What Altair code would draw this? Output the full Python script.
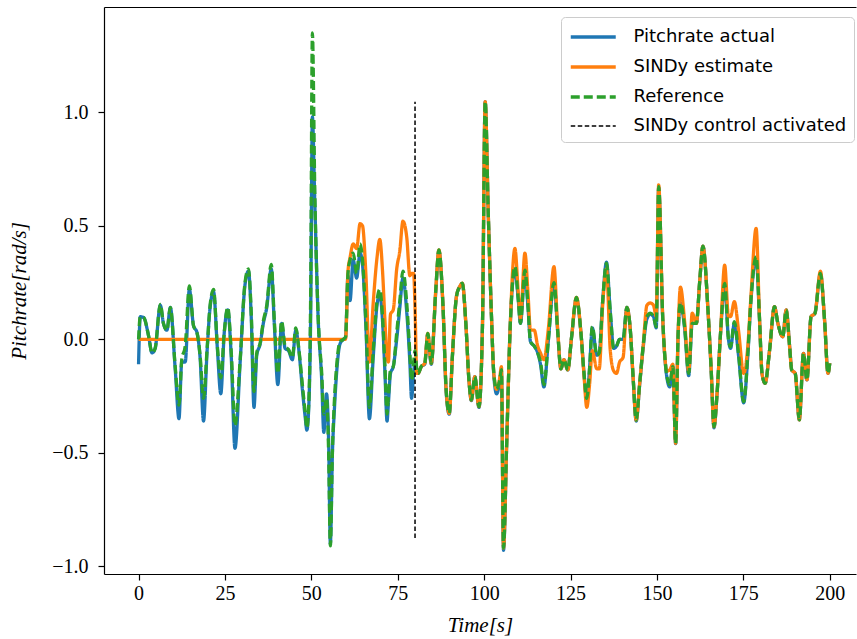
import altair as alt
import pandas as pd

# time [s]
time = [0.0, 0.5, 1.5, 2.9, 3.9, 4.8, 6.3, 7.2, 8.2, 9.2, 10.6, 11.7, 12.5, 13.5, 14.7, 15.9, 16.9, 17.8, 18.8, 19.8,
        20.7, 21.7, 22.8, 23.8, 24.8, 25.8, 26.8, 27.9, 29.4, 30.8, 31.8, 32.6, 33.4, 34.2, 35.2, 36.1, 37.1, 38.4, 39.3, 40.3,
        41.4, 42.4, 43.4, 44.5, 45.5, 46.4, 47.4, 48.2, 48.7, 49.3, 49.8, 50.3, 51.0, 52.0, 53.0, 53.6, 54.4, 55.0, 55.5, 56.1,
        56.7, 57.3, 58.3, 59.3, 59.9, 60.6, 61.2, 62.1, 63.1, 64.1, 64.8, 65.8, 66.8, 67.9, 69.0, 69.8, 70.6, 71.3, 71.9, 72.3,
        72.9, 73.7, 74.7, 75.6, 76.5, 77.6, 78.5, 79.0, 79.6, 80.0, 80.5, 80.9, 81.8, 82.8, 83.7, 84.7, 86.0, 86.9, 88.1, 89.0,
        89.9, 90.8, 92.0, 92.9, 93.7, 94.7, 95.6, 96.3, 97.3, 98.5, 99.5, 100.3, 101.2, 102.1, 102.8, 103.6, 104.5, 105.0, 105.6, 106.5,
        107.5, 108.9, 109.9, 110.5, 111.8, 112.7, 113.4, 114.5, 115.5, 116.3, 117.3, 118.6, 120.2, 121.3, 122.2, 123.1, 124.2, 125.3, 126.7, 128.0,
        128.9, 129.7, 130.5, 131.3, 132.6, 133.3, 134.3, 135.4, 136.5, 137.5, 138.3, 139.2, 140.2, 141.3, 142.3, 143.1, 144.0, 145.0, 146.0, 147.1,
        148.1, 149.0, 149.8, 150.5, 151.7, 152.9, 153.7, 154.6, 155.4, 156.1, 156.8, 158.0, 159.2, 160.2, 161.4, 162.4, 163.3, 164.8, 165.7, 166.5,
        167.4, 168.4, 169.6, 170.7, 171.3, 172.4, 173.6, 175.1, 176.3, 177.2, 178.7, 179.7, 180.4, 181.3, 182.6, 184.0, 185.0, 186.4, 187.4, 188.4,
        189.0, 190.0, 191.2, 192.4, 193.4, 194.6, 195.7, 197.3, 198.5, 199.5, 200.0]

reference = [0.00, 0.10, 0.095, 0.015, -0.06, -0.04, 0.154, 0.07, 0.04, 0.14, -0.12, -0.29, -0.09, -0.03, 0.235, 0.06, 0.03, -0.07, -0.26, -0.05,
             0.15, 0.22, -0.03, -0.17, 0.03, 0.14, -0.05, -0.38, -0.09, 0.25, 0.31, 0.12, -0.23, -0.06, -0.015, 0.08, 0.15, 0.33, 0.08, -0.15,
             0.08, -0.03, -0.045, -0.08, 0.05, -0.045, -0.20, -0.32, -0.39, -0.26, 0.20, 1.35, 0.65, 0.09, -0.15, -0.33, -0.26, -0.50, -0.91, -0.49,
             -0.26, -0.12, -0.01, 0.00, 0.01, 0.29, 0.35, 0.38, 0.29, 0.42, 0.35, 0.07, -0.30, -0.05, 0.17, 0.22, 0.10, -0.12, -0.33, -0.25,
             -0.135, -0.12, 0.03, 0.17, 0.30, 0.16, -0.06, -0.18, -0.10, -0.05, -0.13, -0.15, -0.12, -0.106, 0.026, -0.106, 0.218, 0.394, 0.144, -0.22,
             -0.326, -0.077, 0.19, 0.232, 0.247, 0.07, -0.18, -0.268, -0.165, -0.297, 0.05, 1.047, 0.55, 0.11, -0.15, -0.22, -0.18, -0.134, -0.92, -0.47,
             0.04, 0.32, 0.17, 0.07, 0.305, 0.144, -0.01, -0.03, -0.06, -0.10, -0.20, 0.00, 0.25, 0.03, -0.13, -0.09, -0.135, 0.01, 0.185, 0.03,
             -0.15, -0.26, -0.13, 0.056, -0.07, -0.06, 0.17, 0.335, 0.12, -0.04, -0.03, 0.00, 0.00, 0.14, 0.04, -0.165, -0.356, -0.195, -0.03, 0.10,
             0.115, 0.10, 0.056, 0.672, 0.085, -0.165, -0.20, -0.12, -0.458, 0.01, 0.16, 0.056, -0.15, 0.07, 0.07, 0.26, 0.41, 0.12, -0.135, -0.385,
             -0.237, 0.026, 0.246, 0.00, -0.033, 0.078, -0.062, -0.275, -0.062, 0.173, 0.364, 0.085, -0.15, -0.194, -0.047, 0.144, 0.07, 0.011, 0.129, -0.033,
             -0.135, -0.15, -0.355, -0.062, -0.179, 0.10, 0.114, 0.29, 0.085, -0.15, -0.105]

actual = [-0.11, 0.10, 0.095, 0.015, -0.06, -0.04, 0.15, 0.07, 0.04, 0.14, -0.13, -0.35, -0.10, -0.10, 0.22, 0.06, 0.03, -0.08, -0.36, -0.06,
          0.14, 0.21, -0.04, -0.24, 0.03, 0.13, -0.07, -0.48, -0.10, 0.24, 0.30, 0.10, -0.30, -0.07, -0.02, 0.07, 0.14, 0.31, 0.06, -0.20,
          0.07, -0.04, -0.05, -0.09, 0.04, -0.05, -0.22, -0.34, -0.40, -0.28, 0.10, 0.98, 0.60, 0.08, -0.18, -0.41, -0.24, -0.45, -0.90, -0.50,
          -0.30, -0.15, -0.02, 0.00, 0.01, 0.28, 0.17, 0.35, 0.27, 0.38, 0.33, 0.05, -0.35, -0.08, 0.15, 0.20, 0.08, -0.15, -0.36, -0.28,
          -0.15, -0.12, 0.00, 0.14, 0.27, 0.12, -0.10, -0.26, -0.15, -0.10, -0.14, -0.15, -0.12, -0.11, 0.02, -0.11, 0.21, 0.39, 0.14, -0.23,
          -0.33, -0.08, 0.19, 0.23, 0.245, 0.07, -0.18, -0.27, -0.165, -0.30, 0.05, 1.047, 0.55, 0.11, -0.16, -0.24, -0.19, -0.14, -0.93, -0.47,
          0.04, 0.31, 0.17, 0.07, 0.30, 0.14, -0.01, -0.03, -0.06, -0.11, -0.21, 0.00, 0.25, 0.03, -0.13, -0.09, -0.135, 0.01, 0.18, 0.03,
          -0.15, -0.27, -0.13, 0.05, -0.07, -0.06, 0.17, 0.34, 0.12, -0.04, -0.03, 0.00, 0.00, 0.14, 0.04, -0.17, -0.36, -0.20, -0.04, 0.09,
          0.11, 0.10, 0.05, 0.67, 0.08, -0.17, -0.21, -0.12, -0.46, 0.01, 0.16, 0.05, -0.16, 0.07, 0.07, 0.26, 0.41, 0.12, -0.14, -0.39,
          -0.24, 0.026, 0.24, 0.00, -0.04, 0.07, -0.07, -0.28, -0.07, 0.17, 0.36, 0.08, -0.15, -0.194, -0.047, 0.144, 0.07, 0.011, 0.129, -0.033,
          -0.135, -0.15, -0.355, -0.062, -0.179, 0.10, 0.114, 0.29, 0.085, -0.15, -0.105]

estimate = [0.0, 0.0, 0.0, 0.0, 0.0, 0.0, 0.0, 0.0, 0.0, 0.0, 0.0, 0.0, 0.0, 0.0, 0.0, 0.0, 0.0, 0.0, 0.0, 0.0,
            0.0, 0.0, 0.0, 0.0, 0.0, 0.0, 0.0, 0.0, 0.0, 0.0, 0.0, 0.0, 0.0, 0.0, 0.0, 0.0, 0.0, 0.0, 0.0, 0.0,
            0.0, 0.0, 0.0, 0.0, 0.0, 0.0, 0.0, 0.0, 0.0, 0.0, 0.0, 0.0, 0.0, 0.0, 0.0, 0.0, 0.0, 0.0, 0.0, 0.0,
            0.0, 0.0, 0.0, 0.0, 0.0, 0.30, 0.36, 0.42, 0.40, 0.51, 0.50, 0.28, -0.10, 0.16, 0.36, 0.44, 0.30, 0.08, -0.08, -0.10,
            0.11, 0.13, 0.31, 0.39, 0.52, 0.45, 0.28, 0.29, 0.29, 0.14, -0.15, -0.15, -0.12, -0.106, 0.026, -0.106, 0.218, 0.394, 0.144, -0.22,
            -0.326, -0.077, 0.19, 0.232, 0.247, 0.07, -0.18, -0.268, -0.165, -0.297, 0.05, 1.047, 0.55, 0.11, -0.15, -0.22, -0.17, -0.12, -0.92, -0.47,
            0.04, 0.40, 0.20, 0.09, 0.38, 0.20, 0.04, 0.04, -0.03, -0.06, -0.09, 0.05, 0.32, 0.04, -0.13, -0.09, -0.135, 0.01, 0.185, 0.03,
            -0.16, -0.30, -0.20, -0.05, -0.13, -0.13, 0.15, 0.31, -0.05, -0.14, -0.15, -0.10, -0.08, 0.14, 0.04, -0.165, -0.356, -0.195, -0.03, 0.15,
            0.16, 0.15, 0.10, 0.68, 0.085, -0.14, -0.135, -0.11, -0.458, 0.01, 0.23, 0.08, -0.14, 0.115, 0.07, 0.26, 0.41, 0.12, -0.135, -0.385,
            -0.237, 0.026, 0.327, 0.10, 0.10, 0.166, 0.04, -0.15, -0.03, 0.19, 0.489, 0.085, -0.15, -0.194, -0.047, 0.144, 0.07, 0.011, 0.129, -0.033,
            -0.135, -0.15, -0.355, -0.062, -0.179, 0.10, 0.114, 0.30, 0.085, -0.15, -0.105]

control_time = [80, 80]
control_value = [-0.875, 1.047]

x_ticks = [0, 25, 50, 75, 100, 125, 150, 175, 200]
y_ticks = [-1.0, -0.5, 0.0, 0.5, 1.0]

names = ["Pitchrate actual", "SINDy estimate", "Reference", "SINDy control activated"]
colors = ["#1f77b4", "#ff7f0e", "#2ca02c", "#000000"]
dashes = [[1, 0], [1, 0], [9, 4], [4.5, 2.5]]
widths = [3.3, 3.3, 3.3, 1.5]

df_act = pd.DataFrame({"t": time, "v": actual, "series": names[0]})
df_est = pd.DataFrame({"t": time, "v": estimate, "series": names[1]})
df_ref = pd.DataFrame({"t": time, "v": reference, "series": names[2]})
df_ctl = pd.DataFrame({"t": control_time, "v": control_value, "series": names[3]})

xscale = alt.Scale(domain=[-10, 207.6], nice=False, zero=False)
yscale = alt.Scale(domain=[-1.034, 1.464], nice=False, zero=False)

bottom_axis = alt.Axis(values=x_ticks, format="d", title="Time[s]", titleFontStyle="italic",
                       labelPadding=3, titlePadding=11)
top_axis = alt.Axis(orient="top", labels=False, ticks=False, title=None, domain=True)
y_axis = alt.Axis(values=y_ticks, format=".1f", title="Pitchrate[rad/s]", titleFontStyle="italic",
                  labelPadding=10, titlePadding=22)

color = alt.Color("series:N", scale=alt.Scale(domain=names, range=colors),
                  legend=alt.Legend(title=None, orient="none", legendX=457, legendY=10,
                                    symbolType="M-0.911,0H3.089", symbolSize=506, labelFont="DejaVu Sans",
                                    labelFontSize=18, labelColor="black", padding=7, labelLimit=400,
                                    strokeColor="#cccccc", fillColor="white", cornerRadius=4,
                                    labelOffset=39.5, rowPadding=8))
dash = alt.StrokeDash("series:N", scale=alt.Scale(domain=names, range=dashes))
sw = alt.StrokeWidth("series:N", scale=alt.Scale(type="ordinal", domain=names, range=widths))


def layer(df, axis, interp="monotone"):
    return alt.Chart(df).mark_line(interpolate=interp).encode(
        x=alt.X("t:Q", scale=xscale, axis=axis),
        y=alt.Y("v:Q", scale=yscale, axis=y_axis),
        color=color, strokeDash=dash, strokeWidth=sw,
    )


chart = alt.layer(
    layer(df_act, bottom_axis),
    layer(df_est, None),
    layer(df_ref, None),
    layer(df_ctl, top_axis, "linear"),
).resolve_axis(x="independent").properties(
    width=752, height=567,
    autosize=alt.AutoSizeParams(type="none"),
    padding={"left": 104, "top": 7, "right": 1, "bottom": 65},
).configure_view(stroke=None).configure_axis(
    labelFont="Liberation Serif", labelFontSize=20, labelColor="black",
    titleFont="Liberation Serif", titleFontSize=21, titleColor="black", titleFontWeight="normal",
    domainColor="black", tickColor="black", domainWidth=1.2, tickWidth=1.2, tickSize=6, grid=False,
)

chart.save("out.html", embed_options={"renderer": "svg", "actions": False})
